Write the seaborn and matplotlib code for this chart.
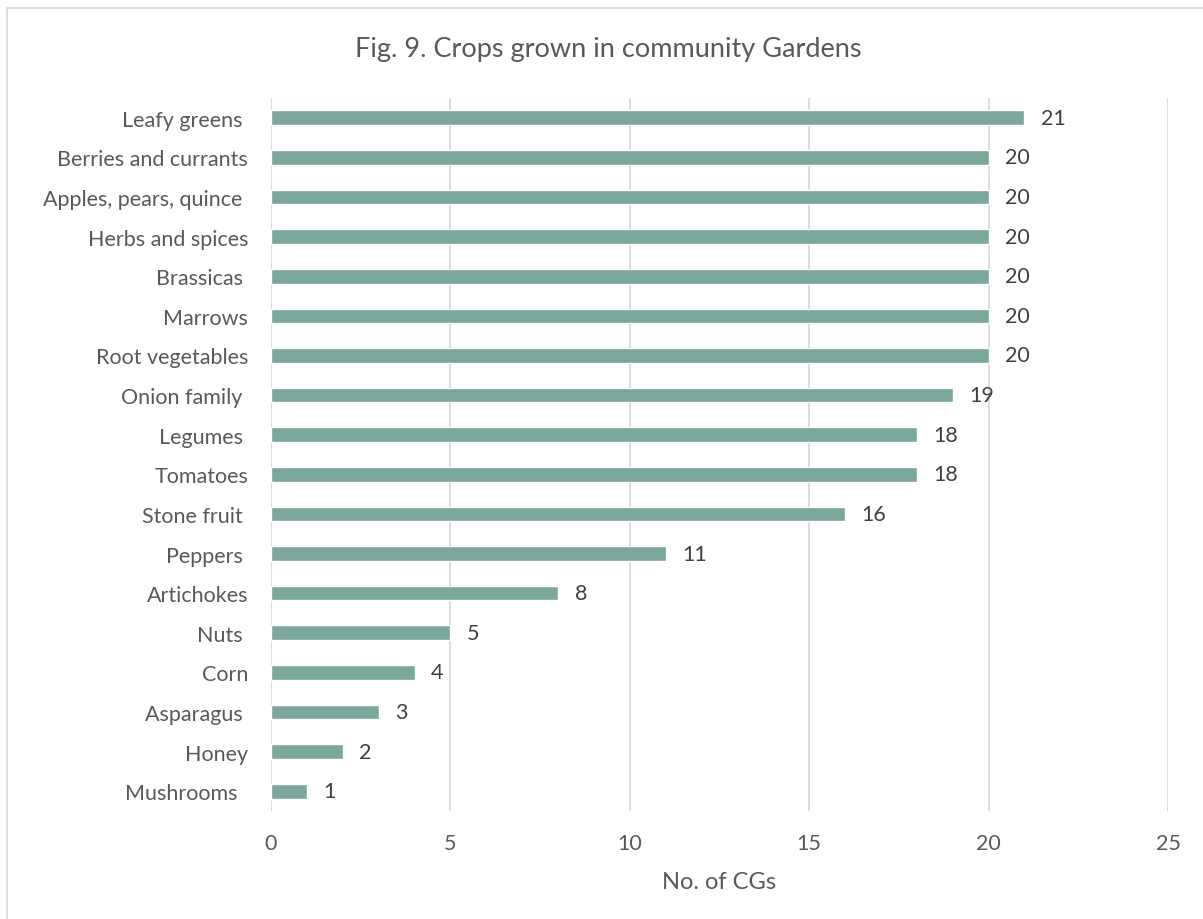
import matplotlib
matplotlib.use("Agg")
import matplotlib.pyplot as plt
import seaborn as sns
import pandas as pd

crops = [
    "Leafy greens ", "Berries and currants", "Apples, pears, quince ",
    "Herbs and spices", "Brassicas ", "Marrows", "Root vegetables",
    "Onion family ", "Legumes ", "Tomatoes", "Stone fruit ", "Peppers ",
    "Artichokes", "Nuts ", "Corn", "Asparagus ", "Honey", "Mushrooms  ",
]
counts = [21, 20, 20, 20, 20, 20, 20, 19, 18, 18, 16, 11, 8, 5, 4, 3, 2, 1]
x_ticks = [0, 5, 10, 15, 20, 25]

title = "Fig. 9. Crops grown in community Gardens"
x_label = "No. of CGs"

bar_color = "#7BA79D"
text_color = "#595959"
grid_color = "#D9D9D9"

sns.set_theme(style="white")
plt.rcParams["font.family"] = ["Lato", "DejaVu Sans"]

df = pd.DataFrame({"crop": crops, "count": counts})

fig = plt.figure(figsize=(12.03, 9.2), dpi=100)
ax = fig.add_axes([0.2253, 0.1174, 0.7456, 0.775])

sns.barplot(data=df, x="count", y="crop", orient="h", color=bar_color,
            width=0.37, saturation=1, ax=ax, zorder=3)

ax.set_xlim(0, 25)
ax.set_ylim(len(crops) - 0.5, -0.5)
ax.set_xticks(x_ticks)
ax.set_xticklabels([str(t) for t in x_ticks], fontsize=15.5, color=text_color)
ax.tick_params(axis="x", length=0, pad=16)
ax.tick_params(axis="y", length=0, pad=16.5, labelsize=15.5, labelcolor=text_color)

for s in ax.spines.values():
    s.set_visible(False)
ax.grid(axis="x", color=grid_color, linewidth=1.3, zorder=0)
ax.grid(axis="y", visible=False)

for container in ax.containers:
    ax.bar_label(container, padding=12, fontsize=15.5, color="#404040")

ax.set_xlabel(x_label, fontsize=17, color=text_color, labelpad=13)
ax.set_ylabel("")

fig.text(0.506, 0.946, title, ha="center", va="center", fontsize=19.5, color=text_color)

# light frame around the whole chart
frame = plt.Rectangle((0.006, -0.01), 1.2, 1.0, transform=fig.transFigure,
                      fill=False, edgecolor="#D9D9D9", linewidth=1.2)
fig.patches.append(frame)

fig.savefig("out.png", dpi=100, facecolor="white")
